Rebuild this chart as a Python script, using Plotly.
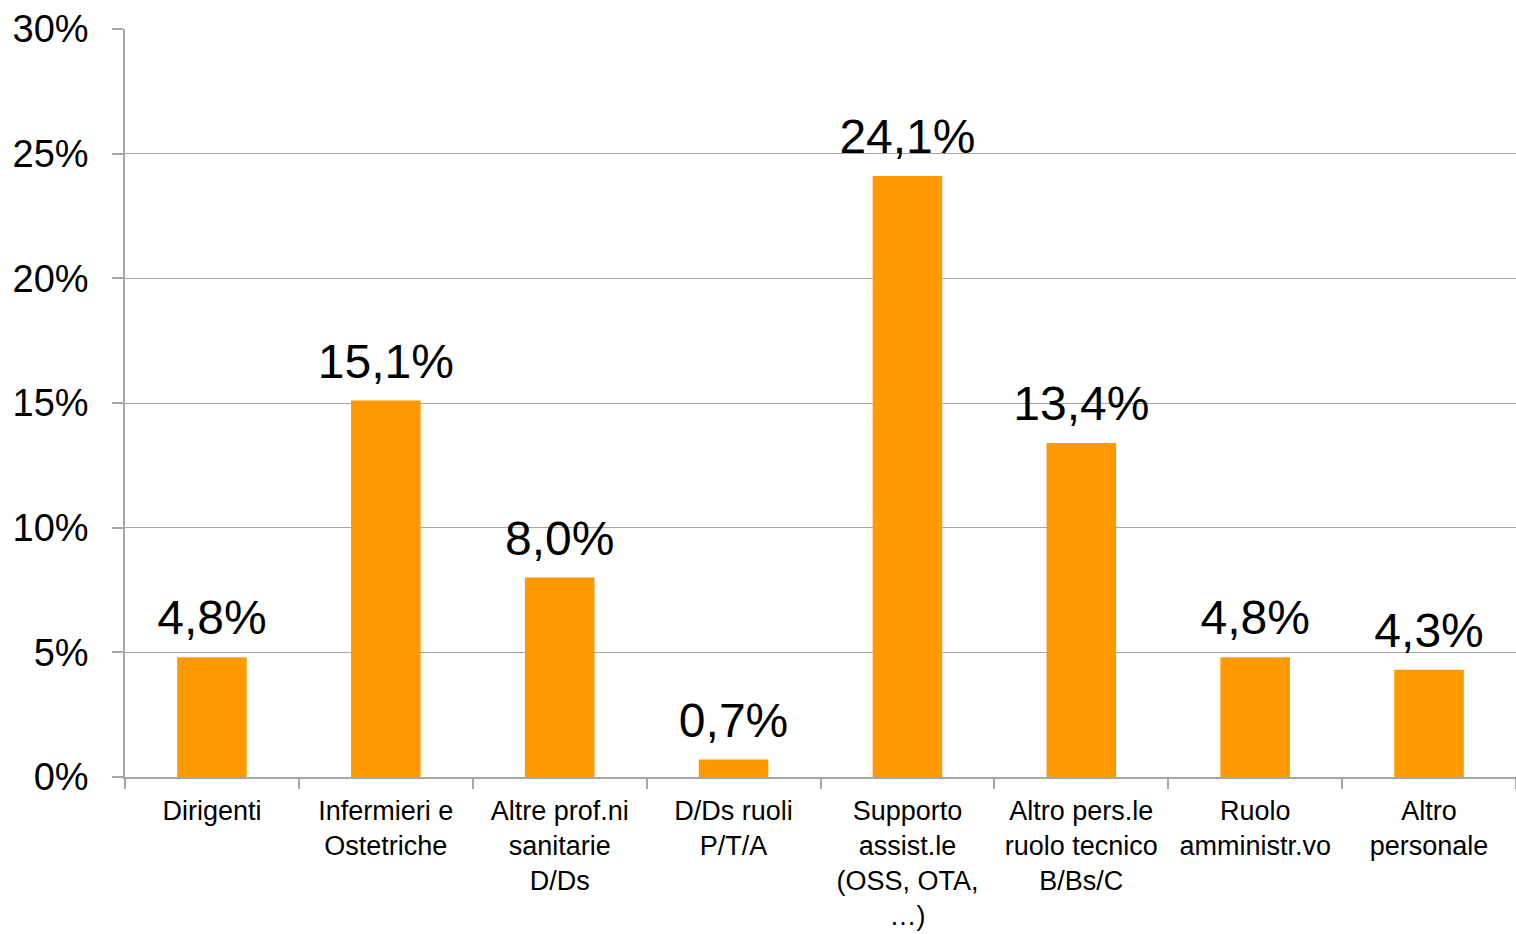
import plotly.graph_objects as go

categories = [
    "Dirigenti",
    "Infermieri e<br>Ostetriche",
    "Altre prof.ni<br>sanitarie<br>D/Ds",
    "D/Ds ruoli<br>P/T/A",
    "Supporto<br>assist.le<br>(OSS, OTA,<br>…)",
    "Altro pers.le<br>ruolo tecnico<br>B/Bs/C",
    "Ruolo<br>amministr.vo",
    "Altro<br>personale",
]
values = [4.8, 15.1, 8.0, 0.7, 24.1, 13.4, 4.8, 4.3]
y_ticks = [0, 5, 10, 15, 20, 25, 30]
y_tick_labels = ["0%", "5%", "10%", "15%", "20%", "25%", "30%"]

labels = [f"{v:.1f}%".replace(".", ",") for v in values]

FONT = "Liberation Sans, Arial, sans-serif"
GRAY = "#A6A6A6"

fig = go.Figure()
fig.add_trace(
    go.Bar(
        x=categories,
        y=values,
        marker=dict(color="#FF9900", line=dict(width=0)),
        width=0.4,
        hoverinfo="skip",
    )
)
fig.add_trace(
    go.Scatter(
        x=categories,
        y=values,
        mode="markers+text",
        marker=dict(size=16, color="rgba(0,0,0,0)"),
        text=labels,
        textposition="top center",
        textfont=dict(family=FONT, size=48, color="#000000"),
        cliponaxis=False,
        hoverinfo="skip",
    )
)

fig.update_layout(
    width=1516,
    height=934,
    margin=dict(l=125, r=0, t=29, b=157, autoexpand=False),
    paper_bgcolor="white",
    plot_bgcolor="white",
    showlegend=False,
    font=dict(family=FONT, color="#000000"),
)

fig.update_xaxes(
    type="category",
    automargin=False,
    showline=True,
    linecolor=GRAY,
    linewidth=1.5,
    ticks="outside",
    tickson="boundaries",
    ticklen=10,
    tickcolor=GRAY,
    tickwidth=1.5,
    tickfont=dict(family=FONT, size=27, color="#000000"),
    showgrid=False,
    tickangle=0,
    ticklabelstandoff=9,
)

fig.update_yaxes(
    range=[0, 30],
    automargin=False,
    tickvals=y_ticks,
    ticktext=y_tick_labels,
    showline=True,
    linecolor=GRAY,
    linewidth=1.5,
    ticks="outside",
    ticklen=11,
    tickcolor=GRAY,
    tickwidth=1.5,
    showgrid=True,
    gridcolor=GRAY,
    gridwidth=1.2,
    zeroline=False,
    tickfont=dict(family=FONT, size=38, color="#000000"),
    ticklabelstandoff=16,
)

fig.write_html("out.html")
